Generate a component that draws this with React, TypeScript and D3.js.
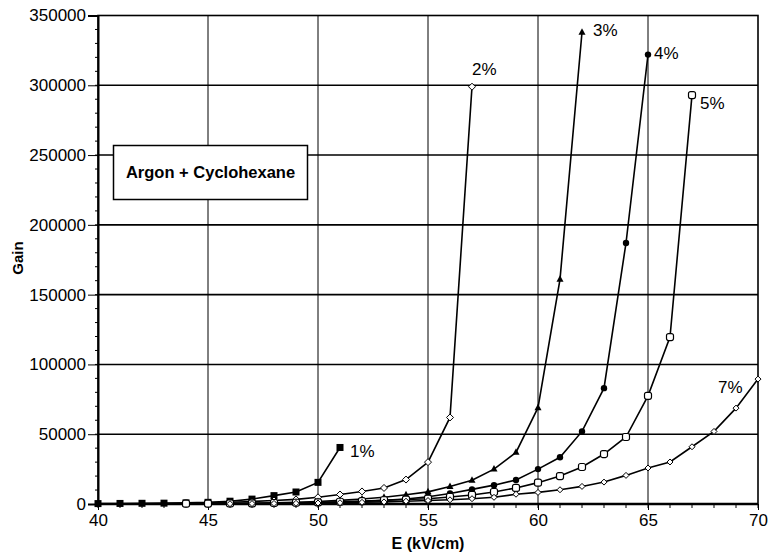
import React, { useEffect, useRef } from "react";
import * as d3 from "d3";

// E (kV/cm) values and gain per cyclohexane concentration
const e1 = [40, 41, 42, 43, 44, 45, 46, 47, 48, 49, 50, 51];
const g1 = [300, 400, 500, 600, 800, 1200, 2000, 3500, 6000, 8600, 15500, 40500];

const e2 = [44, 45, 46, 47, 48, 49, 50, 51, 52, 53, 54, 55, 56, 57];
const g2 = [500, 800, 1200, 1800, 2500, 3300, 4800, 6800, 9000, 11500, 17500, 30000, 62000, 299000];

const e3 = [46, 47, 48, 49, 50, 51, 52, 53, 54, 55, 56, 57, 58, 59, 60, 61, 62];
const g3 = [300, 500, 800, 1200, 1800, 2600, 3600, 4800, 6600, 8700, 12600, 17000, 25000, 37000, 69000, 161000, 338000];

const e4 = [48, 49, 50, 51, 52, 53, 54, 55, 56, 57, 58, 59, 60, 61, 62, 63, 64, 65];
const g4 = [300, 500, 800, 1200, 1800, 2600, 3600, 5200, 7500, 10500, 13500, 17200, 25000, 33500, 52000, 83000, 187000, 322000];

const e5 = [44, 45, 46, 47, 48, 49, 50, 51, 52, 53, 54, 55, 56, 57, 58, 59, 60, 61, 62, 63, 64, 65, 66, 67];
const g5 = [200, 300, 400, 500, 700, 900, 1200, 1600, 2100, 2700, 3200, 3800, 5000, 6500, 8600, 11500, 15300, 20000, 26500, 35800, 48000, 77500, 119600, 293000];

const e7 = [46, 47, 48, 49, 50, 51, 52, 53, 54, 55, 56, 57, 58, 59, 60, 61, 62, 63, 64, 65, 66, 67, 68, 69, 70];
const g7 = [200, 300, 400, 500, 700, 900, 1200, 1500, 2000, 2500, 3000, 3800, 4800, 7000, 8300, 10200, 12600, 15700, 20500, 25800, 30100, 41000, 52000, 68700, 89500];

const seriesLabels = ["1%", "2%", "3%", "4%", "5%", "7%"];

const yTicks = [0, 50000, 100000, 150000, 200000, 250000, 300000, 350000];
const xTicks = [40, 45, 50, 55, 60, 65, 70];

const FONT = "Liberation Sans, Arial, Helvetica, sans-serif";

export default function App() {
  const svgRef = useRef<SVGSVGElement | null>(null);

  useEffect(() => {
    if (!svgRef.current) return;
    const svg = d3.select(svgRef.current);
    svg.selectAll("*").remove();

    const x = d3.scaleLinear().domain([40, 70]).range([98, 758]);
    const y = d3.scaleLinear().domain([0, 350000]).range([504, 15.5]);

    const g = svg.append("g");

    // vertical grid
    g.selectAll(".vgrid")
      .data(xTicks.slice(1, -1))
      .enter()
      .append("line")
      .attr("x1", (d) => x(d))
      .attr("x2", (d) => x(d))
      .attr("y1", y(0))
      .attr("y2", y(350000))
      .attr("stroke", "#000")
      .attr("stroke-width", 1);

    // horizontal grid
    g.selectAll(".hgrid")
      .data(yTicks.slice(1, -1))
      .enter()
      .append("line")
      .attr("x1", x(40))
      .attr("x2", x(70))
      .attr("y1", (d) => y(d))
      .attr("y2", (d) => y(d))
      .attr("stroke", "#000")
      .attr("stroke-width", 1.6);

    // frame
    g.append("rect")
      .attr("x", x(40))
      .attr("y", y(350000))
      .attr("width", x(70) - x(40))
      .attr("height", y(0) - y(350000))
      .attr("fill", "none")
      .attr("stroke", "#000")
      .attr("stroke-width", 1.6);
    g.append("line")
      .attr("x1", x(40))
      .attr("x2", x(70))
      .attr("y1", y(0))
      .attr("y2", y(0))
      .attr("stroke", "#000")
      .attr("stroke-width", 2.5);

    // y axis
    const yAxis = d3
      .axisLeft(y)
      .tickValues(yTicks)
      .tickSize(10)
      .tickPadding(2)
      .tickFormat((d) => String(d));
    const ya = g.append("g").attr("transform", `translate(${x(40)},0)`).call(yAxis);
    ya.select(".domain").attr("stroke-width", 2);
    ya.selectAll("text")
      .attr("font-family", FONT)
      .attr("font-size", 17)
      .attr("fill", "#000");
    const yMinor = d3.range(0, 350001, 10000);
    g.selectAll(".yminor")
      .data(yMinor)
      .enter()
      .append("line")
      .attr("x1", x(40) - 3)
      .attr("x2", x(40))
      .attr("y1", (d) => y(d))
      .attr("y2", (d) => y(d))
      .attr("stroke", "#000");

    // x axis
    const xAxis = d3
      .axisBottom(x)
      .tickValues(xTicks)
      .tickSize(6)
      .tickPadding(4)
      .tickFormat((d) => String(d));
    const xa = g.append("g").attr("transform", `translate(0,${y(0)})`).call(xAxis);
    xa.select(".domain").remove();
    xa.selectAll("text")
      .attr("font-family", FONT)
      .attr("font-size", 17)
      .attr("fill", "#000");
    g.selectAll(".xminor")
      .data(d3.range(40, 71, 1))
      .enter()
      .append("line")
      .attr("x1", (d) => x(d))
      .attr("x2", (d) => x(d))
      .attr("y1", y(0))
      .attr("y2", y(0) + 4)
      .attr("stroke", "#000");

    // axis titles
    g.append("text")
      .attr("x", 428)
      .attr("y", 549)
      .attr("text-anchor", "middle")
      .attr("font-family", FONT)
      .attr("font-weight", "bold")
      .attr("font-size", 16)
      .text("E (kV/cm)");
    g.append("text")
      .attr("transform", "translate(23,258) rotate(-90)")
      .attr("text-anchor", "middle")
      .attr("font-family", FONT)
      .attr("font-weight", "bold")
      .attr("font-size", 15)
      .text("Gain");

    const line = d3
      .line<[number, number]>()
      .x((d) => x(d[0]))
      .y((d) => y(d[1]));

    const series = [
      { e: e1, v: g1, marker: "fsquare" },
      { e: e2, v: g2, marker: "odiamond" },
      { e: e3, v: g3, marker: "ftriangle" },
      { e: e4, v: g4, marker: "fcircle" },
      { e: e5, v: g5, marker: "osquare" },
      { e: e7, v: g7, marker: "osmall" },
    ];

    series.forEach((s) => {
      const pts: [number, number][] = s.e.map((e, i) => [e, s.v[i]]);
      g.append("path")
        .attr("d", line(pts)!)
        .attr("fill", "none")
        .attr("stroke", "#000")
        .attr("stroke-width", 1.6);

      const m = g
        .selectAll(null)
        .data(pts)
        .enter()
        .append("g")
        .attr("transform", (d) => `translate(${x(d[0])},${y(d[1])})`);
      if (s.marker === "fsquare") {
        m.append("rect").attr("x", -3.5).attr("y", -3.5).attr("width", 7).attr("height", 7).attr("fill", "#000");
      } else if (s.marker === "odiamond") {
        m.append("path").attr("d", "M0,-3.5L3.5,0L0,3.5L-3.5,0Z").attr("fill", "#fff").attr("stroke", "#000").attr("stroke-width", 1);
      } else if (s.marker === "ftriangle") {
        m.append("path").attr("d", "M0,-4L3.5,2.5L-3.5,2.5Z").attr("fill", "#000");
      } else if (s.marker === "fcircle") {
        m.append("circle").attr("r", 3.2).attr("fill", "#000");
      } else if (s.marker === "osquare") {
        m.append("rect").attr("x", -3.5).attr("y", -3.5).attr("width", 7).attr("height", 7).attr("rx", 2).attr("fill", "#fff").attr("stroke", "#000").attr("stroke-width", 1.2);
      } else {
        m.append("path").attr("d", "M0,-3L3,0L0,3L-3,0Z").attr("fill", "#fff").attr("stroke", "#000").attr("stroke-width", 1);
      }
    });

    // series labels next to last points
    const labelPos: [number, number, number][] = [
      [e1[e1.length - 1], g1[g1.length - 1], 0],
      [e2[e2.length - 1], g2[g2.length - 1], 1],
      [e3[e3.length - 1], g3[g3.length - 1], 2],
      [e4[e4.length - 1], g4[g4.length - 1], 3],
      [e5[e5.length - 1], g5[g5.length - 1], 4],
      [e7[e7.length - 1], g7[g7.length - 1], 5],
    ];
    const offsets = [
      [10, 10],
      [0, -12],
      [11, 4],
      [6, 4],
      [8, 14],
      [-40, 14],
    ];
    g.selectAll(".slabel")
      .data(labelPos)
      .enter()
      .append("text")
      .attr("x", (d) => x(d[0]) + offsets[d[2]][0])
      .attr("y", (d) => y(d[1]) + offsets[d[2]][1])
      .attr("font-family", FONT)
      .attr("font-size", 17)
      .attr("fill", "#000")
      .text((d) => seriesLabels[d[2]]);

    // legend box
    g.append("rect")
      .attr("x", 113.5)
      .attr("y", 145.5)
      .attr("width", 194)
      .attr("height", 54)
      .attr("fill", "#fff")
      .attr("stroke", "#000")
      .attr("stroke-width", 1.5);
    g.append("text")
      .attr("x", 210.5)
      .attr("y", 178)
      .attr("text-anchor", "middle")
      .attr("font-family", FONT)
      .attr("font-weight", "bold")
      .attr("font-size", 16.5)
      .text("Argon + Cyclohexane");
  }, []);

  return (
    <svg
      ref={svgRef}
      width={768}
      height={553}
      style={{ position: "absolute", left: 0, top: 0, background: "#fff" }}
    />
  );
}
